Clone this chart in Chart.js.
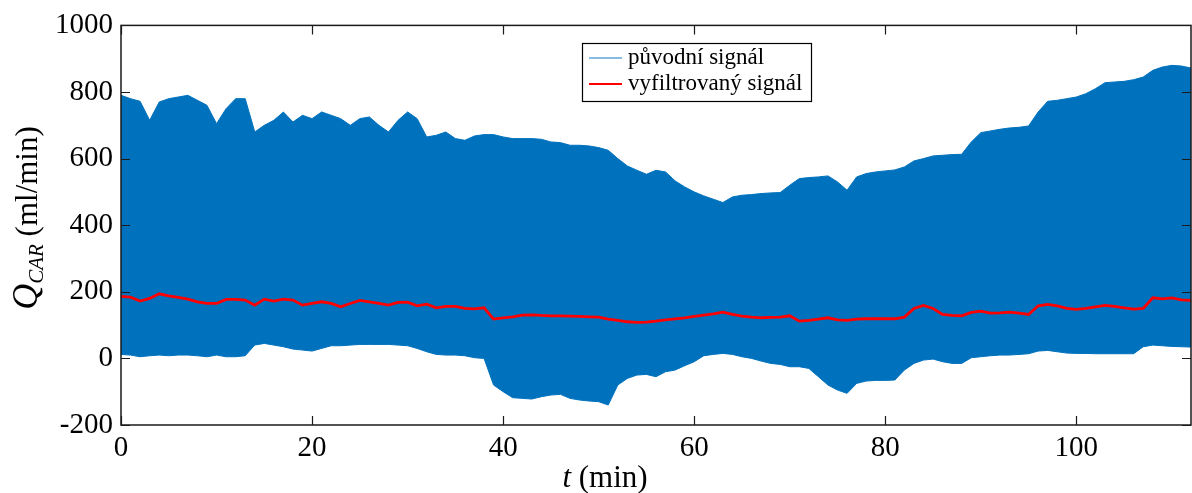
<!DOCTYPE html>
<html>
<head>
<meta charset="utf-8">
<script src="https://cdn.jsdelivr.net/npm/chart.js@4.4.1/dist/chart.umd.min.js"></script>
<style>
  html,body{margin:0;padding:0;background:#fff;}
  #chart{display:block;}
</style>
</head>
<body>
<canvas id="chart" width="1192" height="493"></canvas>
<script>
// time axis (min)
const minutes = [
  0,1,2,3,4,5,6,7,8,9,10,11,12,13,14,15,16,17,18,19,
  20,21,22,23,24,25,26,27,28,29,30,31,32,33,34,35,36,37,38,39,
  40,41,42,43,44,45,46,47,48,49,50,51,52,53,54,55,56,57,58,59,
  60,61,62,63,64,65,66,67,68,69,70,71,72,73,74,75,76,77,78,79,
  80,81,82,83,84,85,86,87,88,89,90,91,92,93,94,95,96,97,98,99,
  100,101,102,103,104,105,106,107,108,109,110,111,112
];

// original signal - upper / lower envelope of the oscillation (ml/min)
const rawUpper = [
  790,780,772,715,770,780,785,790,775,760,705,750,780,780,680,700,715,740,710,730,
  720,740,730,720,700,720,725,700,680,715,740,720,665,670,680,660,655,668,672,672,
  665,660,660,660,658,650,648,640,640,638,633,625,600,578,565,553,565,560,533,515,
  500,488,478,468,485,490,492,495,497,498,520,540,543,545,548,530,505,545,555,560,
  563,566,575,593,600,608,610,612,613,650,678,683,688,692,694,698,740,772,775,780,
  785,795,810,828,830,832,837,845,865,875,880,878,872
];
const rawLower = [
  12,10,5,8,10,8,10,10,8,5,10,5,5,8,40,45,40,35,28,25,
  22,30,38,38,40,42,42,42,42,40,38,30,20,12,10,10,8,2,0,-80,
  -100,-118,-120,-122,-115,-110,-108,-120,-125,-128,-130,-140,-80,-60,-50,-48,-55,-40,-35,-22,
  -10,8,12,15,12,5,0,-8,-15,-18,-25,-25,-30,-55,-80,-95,-105,-75,-68,-66,
  -66,-65,-35,-15,-5,-2,-10,-15,-15,2,5,8,10,10,12,14,22,24,20,16,
  15,15,14,14,14,14,14,35,40,38,36,35,34
];

// filtered signal (ml/min)
const filtered = [
  186,184,172,180,194,188,183,178,170,165,165,177,177,175,160,178,172,178,175,160,
  165,170,165,155,165,174,170,165,160,168,169,158,163,152,156,156,150,149,152,118,
  122,125,130,131,129,128,128,127,126,125,124,118,114,110,108,109,112,116,119,122,
  126,130,134,139,132,127,124,122,123,124,128,112,114,118,122,116,114,118,119,119,
  119,119,124,150,159,150,132,129,128,138,142,136,137,139,136,132,158,162,158,150,
  147,150,155,159,156,152,148,150,182,179,182,176,174
];

const seriesNames = ["původní signál", "vyfiltrovaný signál"];
const xTicks = [0, 20, 40, 60, 80, 100];
const yTicks = [-200, 0, 200, 400, 600, 800, 1000];

const BLUE = "#0072BD";
const RED = "#FF0000";
const FONT = "'Liberation Serif', 'Times New Roman', serif";

function pts(ys){
  return minutes.map((t, i) => ({x: t, y: ys[i]}));
}

// box around the plot + inward ticks, matlab style
const framePlugin = {
  id: "frame",
  afterDatasetsDraw(chart){
    const ctx = chart.ctx;
    const a = chart.chartArea;
    const xs = chart.scales.x, ys = chart.scales.y;
    ctx.save();
    ctx.strokeStyle = "#1a1a1a";
    ctx.lineWidth = 1.5;
    ctx.strokeRect(a.left, a.top, a.right - a.left, a.bottom - a.top);
    ctx.lineWidth = 1.2;
    ctx.beginPath();
    xTicks.forEach(v => {
      const px = Math.round(xs.getPixelForValue(v)) + 0.5;
      ctx.moveTo(px, a.bottom); ctx.lineTo(px, a.bottom - 9);
      ctx.moveTo(px, a.top); ctx.lineTo(px, a.top + 9);
    });
    yTicks.forEach(v => {
      const py = Math.round(ys.getPixelForValue(v)) + 0.5;
      ctx.moveTo(a.left, py); ctx.lineTo(a.left + 9, py);
      ctx.moveTo(a.right, py); ctx.lineTo(a.right - 9, py);
    });
    ctx.stroke();
    ctx.restore();
  }
};

// legend box and axis titles
const annotatePlugin = {
  id: "annotate",
  afterDraw(chart){
    const ctx = chart.ctx;
    ctx.save();

    // legend
    const bx = 582, by = 43, bw = 229, bh = 58;
    ctx.fillStyle = "#fff";
    ctx.fillRect(bx, by, bw, bh);
    ctx.strokeStyle = "#000";
    ctx.lineWidth = 1.2;
    ctx.strokeRect(bx + 0.5, by + 0.5, bw, bh);
    const rows = [
      {label: seriesNames[0], color: "#5fa6db", w: 1.5, y: 58},
      {label: seriesNames[1], color: RED, w: 2, y: 84}
    ];
    ctx.font = "23px " + FONT;
    ctx.textBaseline = "middle";
    rows.forEach(r => {
      ctx.strokeStyle = r.color;
      ctx.lineWidth = r.w;
      ctx.beginPath();
      ctx.moveTo(589, r.y); ctx.lineTo(622, r.y);
      ctx.stroke();
      ctx.fillStyle = "#000";
      ctx.fillText(r.label, 628, r.y);
    });

    // x title
    ctx.fillStyle = "#000";
    ctx.textBaseline = "alphabetic";
    ctx.font = "italic 31px " + FONT;
    const tW = ctx.measureText("t").width;
    ctx.font = "31px " + FONT;
    const restW = ctx.measureText(" (min)").width;
    let x0 = 605 - (tW + restW) / 2;
    ctx.font = "italic 31px " + FONT;
    ctx.fillText("t", x0, 487);
    ctx.font = "31px " + FONT;
    ctx.fillText(" (min)", x0 + tW, 487);

    // y title, rotated
    ctx.translate(37, 218);
    ctx.rotate(-Math.PI / 2);
    ctx.font = "italic 36px " + FONT;
    const qW = ctx.measureText("Q").width;
    ctx.font = "italic 21px " + FONT;
    const cW = ctx.measureText("CAR").width;
    ctx.font = "31px " + FONT;
    const uW = ctx.measureText(" (ml/min)").width;
    let s = -(qW + cW + uW) / 2;
    ctx.font = "italic 36px " + FONT;
    ctx.fillText("Q", s, 0);
    ctx.font = "italic 21px " + FONT;
    ctx.fillText("CAR", s + qW, 6);
    ctx.font = "31px " + FONT;
    ctx.fillText(" (ml/min)", s + qW + cW, 0);

    ctx.restore();
  }
};

let chart;

function initChart(){
  const ctx = document.getElementById("chart").getContext("2d");

  chart = new Chart(ctx, {
    type: "line",
    data: {
      datasets: [
        {
          label: seriesNames[1],
          data: pts(filtered),
          borderColor: RED,
          borderWidth: 2.8,
          pointRadius: 0,
          tension: 0,
          fill: false
        },
        {
          label: seriesNames[0],
          data: pts(rawUpper),
          borderColor: BLUE,
          backgroundColor: BLUE,
          borderWidth: 1,
          pointRadius: 0,
          tension: 0,
          fill: "+1"
        },
        {
          label: seriesNames[0] + " (min)",
          data: pts(rawLower),
          borderColor: BLUE,
          borderWidth: 1,
          pointRadius: 0,
          tension: 0,
          fill: false
        }
      ]
    },
    options: {
      responsive: false,
      animation: false,
      layout: { padding: { top: 24, right: 1, left: 0, bottom: 0 } },
      plugins: {
        legend: { display: false },
        tooltip: { enabled: false }
      },
      scales: {
        x: {
          type: "linear",
          min: 0,
          max: 112,
          grid: { display: false, drawTicks: false },
          border: { display: false },
          afterFit: s => { s.height = 68; },
          afterBuildTicks: s => { s.ticks = xTicks.map(v => ({value: v})); },
          ticks: {
            color: "#000",
            padding: 6,
            maxRotation: 0,
            font: { family: FONT, size: 29 },
            callback: v => String(v)
          }
        },
        y: {
          min: -200,
          max: 1000,
          grid: { display: false, drawTicks: false },
          border: { display: false },
          afterFit: s => { s.width = 121; },
          afterBuildTicks: s => { s.ticks = yTicks.map(v => ({value: v})); },
          ticks: {
            color: "#000",
            padding: 8,
            font: { family: FONT, size: 29 },
            callback: v => String(v)
          }
        }
      }
    },
    plugins: [framePlugin, annotatePlugin]
  });
}

initChart();
</script>
</body>
</html>
